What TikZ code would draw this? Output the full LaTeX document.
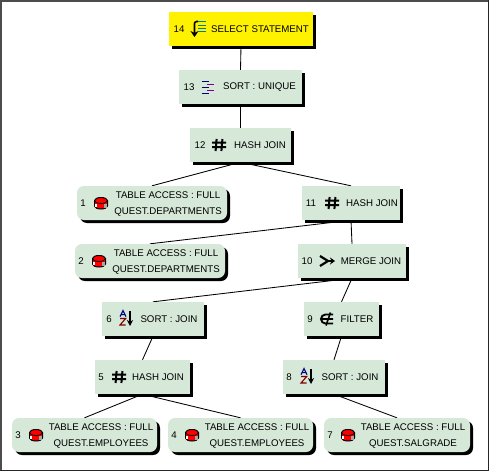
\documentclass[tikz,border=0pt]{standalone}
\usepackage{fontspec}
\setmainfont{Liberation Sans}
\usetikzlibrary{arrows.meta,shadows,backgrounds}
\definecolor{boxgreen}{HTML}{D6E8D8}
\definecolor{iconteal}{HTML}{008080}
\definecolor{iconnavy}{HTML}{000080}
\definecolor{iconpurple}{HTML}{800080}
\definecolor{iconmaroon}{HTML}{800000}
\tikzset{
  opbox/.style={fill=boxgreen,inner sep=0pt,minimum height=34pt,
    drop shadow={shadow xshift=3pt,shadow yshift=-3pt,fill=black,opacity=1}},
  tablebox/.style={opbox,rounded corners=7pt,minimum width=146pt},
  selectbox/.style={opbox,fill=yellow},
  optext/.style={font=\fontsize{9.7}{16}\selectfont,inner sep=0pt,align=center},
  link/.style={line width=0.85pt},
  hashicon/.pic={
    \draw[line width=2pt] (-7,-2.4) -- (7,-2.4) (-7,2.2) -- (7,2.2)
      (-2.4,-6) -- (-3.4,6) (3.4,-6) -- (2.4,6);
  },
  diskicon/.pic={
    \draw[fill=red,line width=1pt] (-6.5,-2.5) arc[start angle=180,end angle=360,x radius=6.5,y radius=3]
      -- (6.5,3) arc[start angle=0,end angle=180,x radius=6.5,y radius=3] -- cycle;
    \fill[gray!70] (2.5,1) rectangle (6,4.8);
    \fill[white] (-5.8,1.2) rectangle (-4.2,3.8);
    \draw[line width=0.8pt] (-6.5,-2.5) arc[start angle=180,end angle=0,x radius=6.5,y radius=3];
  },
  sorticon/.pic={
    \draw[iconnavy,line width=1.1pt] (-5,-2.3) -- (-2,-8.5) -- (1,-2.3) (-3.8,-4.4) -- (-0.2,-4.4);
    \draw[iconmaroon,line width=1.1pt] (-5,-0.5) -- (0.7,-0.5) -- (-5,6) -- (0.7,6);
    \draw[line width=1.1pt,-{Stealth[length=6pt,width=6pt]}] (5,-8) -- (5,7);
  },
  selecticon/.pic={
    \draw[line width=1.6pt,-{Stealth[length=6pt,width=8pt]}] (-1,-7.5) -- (-2.5,-7.5)
      .. controls (-4.5,-7) and (-4.5,-6) .. (-4.5,-5) -- (-4.5,8);
    \draw[iconteal,line width=1pt] (-1,-7.5) -- (7,-7.5) (-1,-4) -- (7,-4) (-1,-1) -- (7,-1) (-1,2) -- (7,2);
  },
  uniqueicon/.pic={
    \draw[iconnavy,line width=1pt] (-6,-6) -- (1,-6) (-6,0) -- (1,0) (-6,6) -- (1,6);
    \draw[iconpurple,line width=1pt] (-1,-3) -- (6,-3) (-1,3) -- (6,3);
  },
  mergeicon/.pic={
    \draw[line width=2.2pt] (-7,-5) -- (1,0) -- (-7,5);
    \draw[line width=1.6pt,-{Stealth[length=5pt,width=7pt]}] (0,0) -- (8,0);
  },
  filtericon/.pic={
    \draw[line width=1.9pt] (6,-4.5) -- (-1.5,-4.5) arc[start angle=270,end angle=90,radius=4.5] -- (6,4.5);
    \draw[line width=1.6pt] (-6,0) -- (6,0) (3.5,-6.5) -- (-1,6.5);
  },
}
\begin{document}
\begin{tikzpicture}[x=1pt,y=-1pt]
\useasboundingbox (0,0) rectangle (489,471);
% boxes
\node[selectbox,minimum width=144pt] (select14) at (241,29) {};
\node[opbox,minimum width=123pt] (sort13) at (240.5,87) {};
\node[opbox,minimum width=101pt] (hash12) at (240.5,145) {};
\node[tablebox,minimum width=150pt] (table1) at (152,203) {};
\node[opbox,minimum width=98pt] (hash11) at (351,203) {};
\node[tablebox,minimum width=150pt] (table2) at (150,261) {};
\node[opbox,minimum width=108pt] (merge10) at (352,261) {};
\node[opbox,minimum width=102pt] (sort6) at (153,319) {};
\node[opbox,minimum width=75pt] (filter9) at (341.5,319) {};
\node[opbox,minimum width=95pt] (hash5) at (142.5,377) {};
\node[opbox,minimum width=102pt] (sort8) at (334,377) {};
\node[tablebox,minimum width=145pt] (table3) at (84.5,435) {};
\node[tablebox,minimum width=145pt] (table4) at (240.5,435) {};
\node[tablebox] (table7) at (397,435) {};
% connectors go behind the boxes and their shadows
\begin{scope}[on background layer]
\fill[white] (0,0) rectangle (489,471);
\draw[link] (select14.south) -- (sort13.north);
\draw[link] (sort13.south) -- (hash12.north);
\draw[link] (hash12.south) -- (table1.north);
\draw[link] (hash12.south) -- (hash11.north);
\draw[link] (hash11.south) -- (table2.north);
\draw[link] (hash11.south) -- (merge10.north);
\draw[link] (merge10.south) -- (sort6.north);
\draw[link] (merge10.south) -- (filter9.north);
\draw[link] (sort6.south) -- (hash5.north);
\draw[link] (filter9.south) -- (sort8.north);
\draw[link] (hash5.south) -- (table3.north);
\draw[link] (hash5.south) -- (table4.north);
\draw[link] (sort8.south) -- (table7.north);
\end{scope}
% numbers
\node[optext] (num14) at (179,29) {14};
\node[optext] (num13) at (189,87) {13};
\node[optext] (num12) at (200,145) {12};
\node[optext] (num1) at (83,203) {1};
\node[optext] (num11) at (311,203) {11};
\node[optext] (num2) at (81,261) {2};
\node[optext] (num10) at (307,261) {10};
\node[optext] (num6) at (109,319) {6};
\node[optext] (num9) at (310,319) {9};
\node[optext] (num5) at (101,377) {5};
\node[optext] (num8) at (289,377) {8};
\node[optext] (num3) at (18,435) {3};
\node[optext] (num4) at (174,435) {4};
\node[optext] (num7) at (330,435) {7};
% icons
\pic at (199,29) {selecticon};
\pic at (208,87) {uniqueicon};
\pic at (219,145) {hashicon};
\pic at (101,203) {diskicon};
\pic at (332,203) {hashicon};
\pic at (99,261) {diskicon};
\pic at (327,261) {mergeicon};
\pic at (125,319) {sorticon};
\pic at (327,319) {filtericon};
\pic at (119,377) {hashicon};
\pic at (306,377) {sorticon};
\pic at (36,435) {diskicon};
\pic at (192,435) {diskicon};
\pic at (348,435) {diskicon};
% labels
\node[optext] (text14) at (260,29) {SELECT STATEMENT};
\node[optext] (text13) at (259.5,87) {SORT : UNIQUE};
\node[optext] (text12) at (260,145) {HASH JOIN};
\node[optext] (text1) at (168,204.5) {TABLE ACCESS : FULL\\QUEST.DEPARTMENTS};
\node[optext] (text11) at (372,203) {HASH JOIN};
\node[optext] (text2) at (166,262.5) {TABLE ACCESS : FULL\\QUEST.DEPARTMENTS};
\node[optext] (text10) at (371,261) {MERGE JOIN};
\node[optext] (text6) at (169,319) {SORT : JOIN};
\node[optext] (text9) at (357,319) {FILTER};
\node[optext] (text5) at (158,377) {HASH JOIN};
\node[optext] (text8) at (350,377) {SORT : JOIN};
\node[optext] (text3) at (101,436.5) {TABLE ACCESS : FULL\\QUEST.EMPLOYEES};
\node[optext] (text4) at (257,436.5) {TABLE ACCESS : FULL\\QUEST.EMPLOYEES};
\node[optext] (text7) at (413,436.5) {TABLE ACCESS : FULL\\QUEST.SALGRADE};
% window edge
\fill[black!70] (0,0) rectangle (489,2);
\fill[black!70] (0,0) rectangle (1.5,471);
\fill[black!85] (487.5,0) rectangle (489,471);
\fill[black!85] (0,469.5) rectangle (489,471);
\end{tikzpicture}
\end{document}
